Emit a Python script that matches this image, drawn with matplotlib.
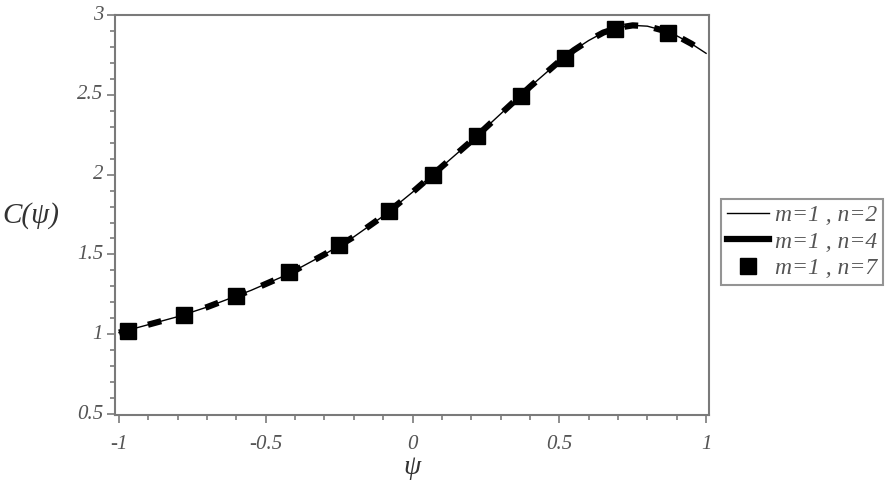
import numpy as np
import matplotlib.pyplot as plt
from matplotlib.lines import Line2D
from matplotlib.ticker import MultipleLocator

# curve values (all three cases overlap)
psi = [-1.00, -0.95, -0.90, -0.85, -0.80, -0.75, -0.70, -0.65, -0.60, -0.55,
       -0.50, -0.45, -0.40, -0.35, -0.30, -0.25, -0.20, -0.15, -0.10, -0.05,
       0.00, 0.05, 0.10, 0.15, 0.20, 0.25, 0.30, 0.35, 0.40, 0.45,
       0.50, 0.55, 0.60, 0.65, 0.70, 0.75, 0.80, 0.85, 0.90, 0.95, 1.00]
C_n2 = [1.010, 1.035, 1.060, 1.085, 1.110, 1.140, 1.170, 1.205, 1.240, 1.275,
        1.315, 1.355, 1.400, 1.450, 1.500, 1.555, 1.610, 1.675, 1.740, 1.815,
        1.890, 1.970, 2.050, 2.130, 2.210, 2.295, 2.380, 2.465, 2.550, 2.630,
        2.710, 2.780, 2.840, 2.890, 2.920, 2.935, 2.930, 2.905, 2.870, 2.820, 2.760]
C_n4 = list(C_n2)
# n=7 drawn as block markers
psi_n7 = [-0.97, -0.78, -0.60, -0.42, -0.25, -0.08, 0.07, 0.22, 0.37, 0.52, 0.69, 0.87]
C_n7 = [1.02, 1.12, 1.24, 1.39, 1.56, 1.77, 2.00, 2.24, 2.49, 2.73, 2.91, 2.89]
labels = ['m=1 , n=2', 'm=1 , n=4', 'm=1 , n=7']
xticks = [-1, -0.5, 0, 0.5, 1]
yticks = [0.5, 1, 1.5, 2, 2.5, 3]

serif = ['Liberation Serif', 'DejaVu Serif']
gray = '#7a7a7a'

fig = plt.figure(figsize=(8.88, 4.88), dpi=100)
ax = fig.add_axes([115/888, 1-415/488, 594/888, 400/488])

ax.plot(psi, C_n2, color='black', lw=1.0, zorder=2)
ax.plot(psi, C_n4, color='black', lw=4.5, dashes=(2.2, 2.6), zorder=3)
ax.plot(psi_n7, C_n7, ls='none', marker='s', ms=11, color='black', zorder=4)

ax.set_xlim(-1.0136, 1.010)
ax.set_ylim(0.494, 3.0)
ax.xaxis.set_major_locator(MultipleLocator(0.5))
ax.xaxis.set_minor_locator(MultipleLocator(0.1))
ax.yaxis.set_major_locator(MultipleLocator(0.5))
ax.yaxis.set_minor_locator(MultipleLocator(0.1))
ax.set_xticklabels([])
ax.set_yticklabels([])

for v in xticks:
    ax.text(v, -0.05, '%g' % v, transform=ax.get_xaxis_transform(),
            ha='center', va='top', family=serif, style='italic',
            fontsize=15, color='#555555')
for v in yticks:
    ax.text(-0.02, v, '%g' % v, transform=ax.get_yaxis_transform(),
            ha='right', va='center', family=serif, style='italic',
            fontsize=15, color='#555555')

ax.tick_params(which='major', direction='out', length=6, width=1.2, color=gray)
ax.tick_params(which='minor', direction='out', length=3.5, width=1.2, color=gray)
ax.tick_params(top=False, right=False, which='both')
for s in ax.spines.values():
    s.set_color(gray)
    s.set_linewidth(1.5)

fig.text(31/888, 1-216/488, 'C(ψ)', family=serif, style='italic', fontsize=21,
         ha='center', va='center', color='#333333')
fig.text(412/888, 1-467/488, 'ψ', family=serif, style='italic', fontsize=20,
         ha='center', va='center', color='#333333')

handles = [Line2D([], [], color='black', lw=1.0),
           Line2D([], [], color='black', lw=4.5),
           Line2D([], [], ls='none', marker='s', ms=12, color='black')]
leg = fig.legend(handles, labels, loc='upper left', bbox_to_anchor=(721/888, 1-199/488),
                 prop={'family': serif, 'style': 'italic', 'size': 17},
                 frameon=True, fancybox=False, handlelength=1.8, borderpad=0.25,
                 labelspacing=0.2, handletextpad=0.25, borderaxespad=0)
leg.get_frame().set_edgecolor(gray)
leg.get_frame().set_linewidth(1.5)
for t in leg.get_texts():
    t.set_color('#555555')

fig.savefig('out.png', dpi=100)
